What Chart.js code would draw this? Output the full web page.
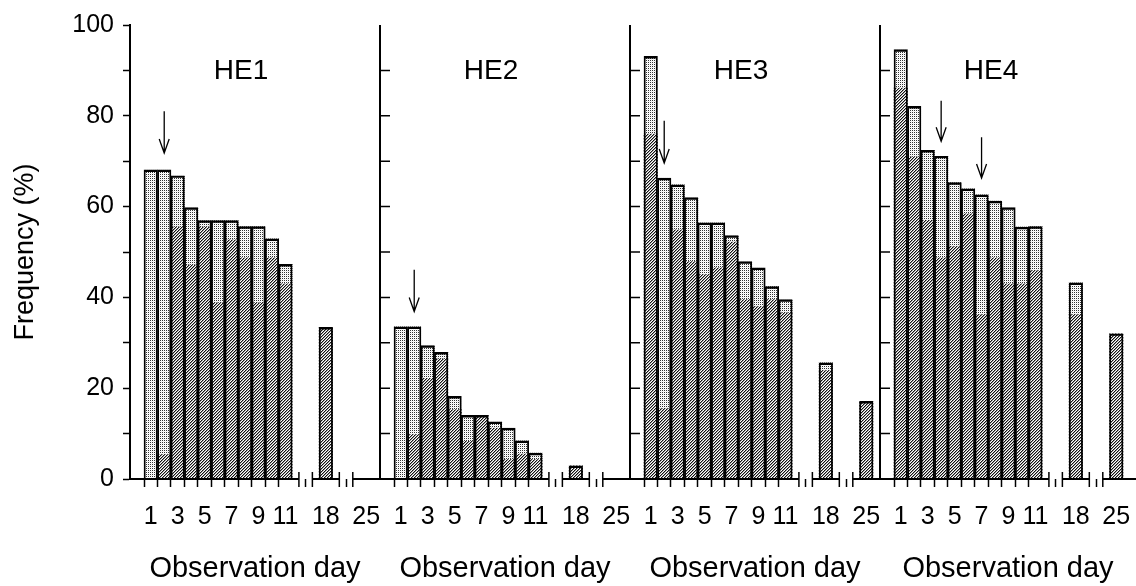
<!DOCTYPE html>
<html>
<head>
<meta charset="utf-8">
<script src="https://cdn.jsdelivr.net/npm/chart.js@4.4.1/dist/chart.umd.min.js"></script>
<style>
  html, body { margin: 0; padding: 0; background: #fff; }
  #wrap { position: relative; width: 1136px; height: 586px; overflow: hidden; }
  #wrap canvas { position: absolute; top: 0; }
</style>
</head>
<body>
<div id="wrap">
  <canvas id="he1" width="382" height="586" style="left:0px"></canvas>
  <canvas id="he2" width="254" height="586" style="left:378px"></canvas>
  <canvas id="he3" width="254" height="586" style="left:628px"></canvas>
  <canvas id="he4" width="258" height="586" style="left:878px"></canvas>
</div>
<script>
// observation days and their slot on the broken x axis
const days = [1, 2, 3, 4, 5, 6, 7, 8, 9, 10, 11, 18, 25];
const dayPos = [0, 1, 2, 3, 4, 5, 6, 7, 8, 9, 10, 13, 16];
const tickLabels = ['1', '', '3', '', '5', '', '7', '', '9', '', '11', '18', '25'];
const breakPos = [11, 12, 14, 15];
const panelNames = ['HE1', 'HE2', 'HE3', 'HE4'];

// total bar height (%) and hatched (lower) part per panel
const he1Total   = [68.1, 68.1, 66.8, 59.8, 56.9, 56.9, 56.9, 55.6, 55.6, 52.9, 47.3, 33.4, 0];
const he1Hatched = [0, 5.4, 55.5, 47.1, 55.5, 38.8, 52.7, 48.7, 38.8, 48.7, 43.0, 33.4, 0];
const he2Total   = [33.5, 33.5, 29.4, 27.9, 18.2, 14.0, 14.0, 12.6, 11.2, 8.4, 5.7, 2.9, 0];
const he2Hatched = [0, 9.8, 22.2, 26.4, 15.3, 8.3, 14.0, 11.2, 4.3, 5.5, 4.3, 2.9, 0];
const he3Total   = [93.1, 66.3, 64.8, 62.0, 56.4, 56.4, 53.6, 47.9, 46.5, 42.4, 39.5, 25.6, 17.1];
const he3Hatched = [76.0, 15.5, 54.9, 47.9, 45.0, 46.5, 52.2, 39.5, 38.0, 39.5, 36.6, 23.9, 17.1];
const he4Total   = [94.6, 82.1, 72.4, 71.1, 65.3, 63.9, 62.6, 61.2, 59.8, 55.5, 55.6, 43.2, 32.0];
const he4Hatched = [86.1, 70.9, 57.0, 48.7, 51.2, 58.4, 36.2, 48.7, 43.0, 43.0, 45.9, 36.2, 32.0];

// arrows: day, start value, tip value
const arrowDays = [[2], [2], [2], [4, 7]];
const arrowTop  = [[81.0], [46.1], [78.9], [83.3, 75.3]];
const arrowTip  = [[71.8], [36.9], [69.6], [74.4, 66.3]];

Chart.defaults.font.family = "'Liberation Sans', Arial, sans-serif";
Chart.defaults.color = '#000';
Chart.defaults.animation = false;

function makePattern(size, paint) {
  const c = document.createElement('canvas');
  c.width = size; c.height = size;
  const g = c.getContext('2d');
  g.fillStyle = '#fff';
  g.fillRect(0, 0, size, size);
  for (let x = 0; x < size; x++) {
    for (let y = 0; y < size; y++) {
      const col = paint(x, y);
      if (col) { g.fillStyle = col; g.fillRect(x, y, 1, 1); }
    }
  }
  return g.createPattern(c, 'repeat');
}
// diagonal "////" hatching
const hatch = makePattern(3, (x, y) => {
  const k = (x + y) % 3;
  return k === 0 ? '#111' : (k === 1 ? '#999' : null);
});
// light stipple
const dots = makePattern(2, (x, y) => (x === 0 && y === 0) ? '#333' : (x === 1 && y === 1 ? '#eee' : null));

const panelDecor = {
  id: 'panelDecor',
  afterDatasetsDraw(chart, args, o) {
    const { ctx, chartArea: a } = chart;
    const xs = chart.scales.x, ys = chart.scales.y;
    ctx.save();
    ctx.strokeStyle = '#000';
    ctx.fillStyle = '#000';
    // broken x axis line
    ctx.lineWidth = 2;
    const bx = breakPos.map(v => xs.getPixelForValue(v));
    const segs = [[a.left, bx[0]], [bx[1], bx[2]], [bx[3], a.right]];
    ctx.beginPath();
    segs.forEach(s => { ctx.moveTo(s[0], a.bottom); ctx.lineTo(s[1], a.bottom); });
    ctx.stroke();
    ctx.lineWidth = 1.5;
    ctx.beginPath();
    bx.forEach(x => { ctx.moveTo(x, a.bottom - 7); ctx.lineTo(x, a.bottom + 8); });
    ctx.stroke();
    // panel divider with inward ticks
    if (o.divider) {
      ctx.lineWidth = 2;
      ctx.beginPath();
      ctx.moveTo(a.left, a.top);
      ctx.lineTo(a.left, a.bottom);
      ctx.stroke();
      ctx.lineWidth = 1.5;
      ctx.beginPath();
      for (let v = 10; v < 100; v += 10) {
        const y = ys.getPixelForValue(v);
        ctx.moveTo(a.left, y); ctx.lineTo(a.left + 10, y);
      }
      ctx.stroke();
    }
    // panel name
    ctx.font = "28px 'Liberation Sans', Arial, sans-serif";
    ctx.textAlign = 'center';
    ctx.textBaseline = 'middle';
    ctx.fillText(o.name, xs.getPixelForValue(6.7), ys.getPixelForValue(89.7));
    // arrows
    ctx.lineWidth = 1.3;
    o.arrowDays.forEach((d, i) => {
      const x = xs.getPixelForValue(dayPos[days.indexOf(d)]);
      const y0 = ys.getPixelForValue(o.arrowTop[i]);
      const y1 = ys.getPixelForValue(o.arrowTip[i]);
      ctx.beginPath();
      ctx.moveTo(x, y0); ctx.lineTo(x, y1);
      ctx.moveTo(x - 5, y1 - 14); ctx.lineTo(x, y1); ctx.lineTo(x + 5, y1 - 14);
      ctx.stroke();
    });
    ctx.restore();
  }
};

function makePanel(id, p, total, hatched, xMax, pad) {
  const first = p === 0;
  const yScale = first ? {
    min: 0, max: 100, stacked: true,
    afterFit: s => { s.width = 130; },
    border: { display: true, color: '#000', width: 2 },
    grid: { drawOnChartArea: false, tickLength: 7, tickWidth: 1.5, tickColor: '#000' },
    ticks: { stepSize: 10, padding: 9, color: '#000', font: { size: 25 },
             callback: v => (v % 20 === 0 ? v : '') },
    title: { display: true, text: 'Frequency (%)', color: '#000', font: { size: 27 },
             padding: { top: 9, bottom: 0 } }
  } : { display: false, min: 0, max: 100, stacked: true };

  return new Chart(document.getElementById(id), {
    type: 'bar',
    data: {
      datasets: [
        {
          label: 'outline', stack: 'outline', grouped: false,
          data: dayPos.map((x, i) => ({ x: x, y: total[i] > 0 ? total[i] : null })),
          backgroundColor: 'rgba(0,0,0,0)', borderColor: '#000',
          borderWidth: { top: 1.8, left: 1.2, right: 1.2, bottom: 0 },
          borderSkipped: false, barPercentage: 1, categoryPercentage: 1
        },
        {
          label: 'hatched', stack: 'bars',
          data: dayPos.map((x, i) => ({ x: x, y: hatched[i] })),
          backgroundColor: hatch, borderWidth: 0,
          barPercentage: 1, categoryPercentage: 1
        },
        {
          label: 'dotted', stack: 'bars',
          data: dayPos.map((x, i) => ({ x: x, y: Math.max(0, total[i] - hatched[i]) })),
          backgroundColor: dots, borderWidth: 0,
          barPercentage: 1, categoryPercentage: 1
        }
      ]
    },
    options: {
      responsive: false,
      devicePixelRatio: 1,
      layout: { padding: { left: pad[0], right: pad[1], top: 25, bottom: 0 } },
      plugins: {
        legend: { display: false },
        tooltip: { enabled: false },
        panelDecor: {
          name: panelNames[p], divider: !first,
          arrowDays: arrowDays[p], arrowTop: arrowTop[p], arrowTip: arrowTip[p]
        }
      },
      scales: {
        x: {
          type: 'linear', min: -1.54, max: xMax, offset: false,
          afterBuildTicks: s => { s.ticks = dayPos.map(v => ({ value: v })); },
          afterFit: s => { s.height = 107; s.paddingLeft = 0; s.paddingRight = 0; },
          border: { display: false },
          grid: { drawOnChartArea: false, drawTicks: true, tickLength: 8, tickWidth: 1.5, tickColor: '#000' },
          ticks: { autoSkip: false, maxRotation: 0, padding: 15, color: '#000', font: { size: 25 },
                   callback: (v, i) => tickLabels[i] },
          title: { display: true, text: 'Observation day', color: '#000', font: { size: 29 },
                   padding: { top: 0, bottom: 0 } }
        },
        y: yScale
      }
    },
    plugins: [panelDecor]
  });
}

makePanel('he1', 0, he1Total, he1Hatched, -1.54 + 250 / 13.47, [0, 2]);
makePanel('he2', 1, he2Total, he2Hatched, -1.54 + 250 / 13.47, [2, 2]);
makePanel('he3', 2, he3Total, he3Hatched, -1.54 + 250 / 13.47, [2, 2]);
makePanel('he4', 3, he4Total, he4Hatched, -1.54 + 256 / 13.47, [2, 0]);
</script>
</body>
</html>
